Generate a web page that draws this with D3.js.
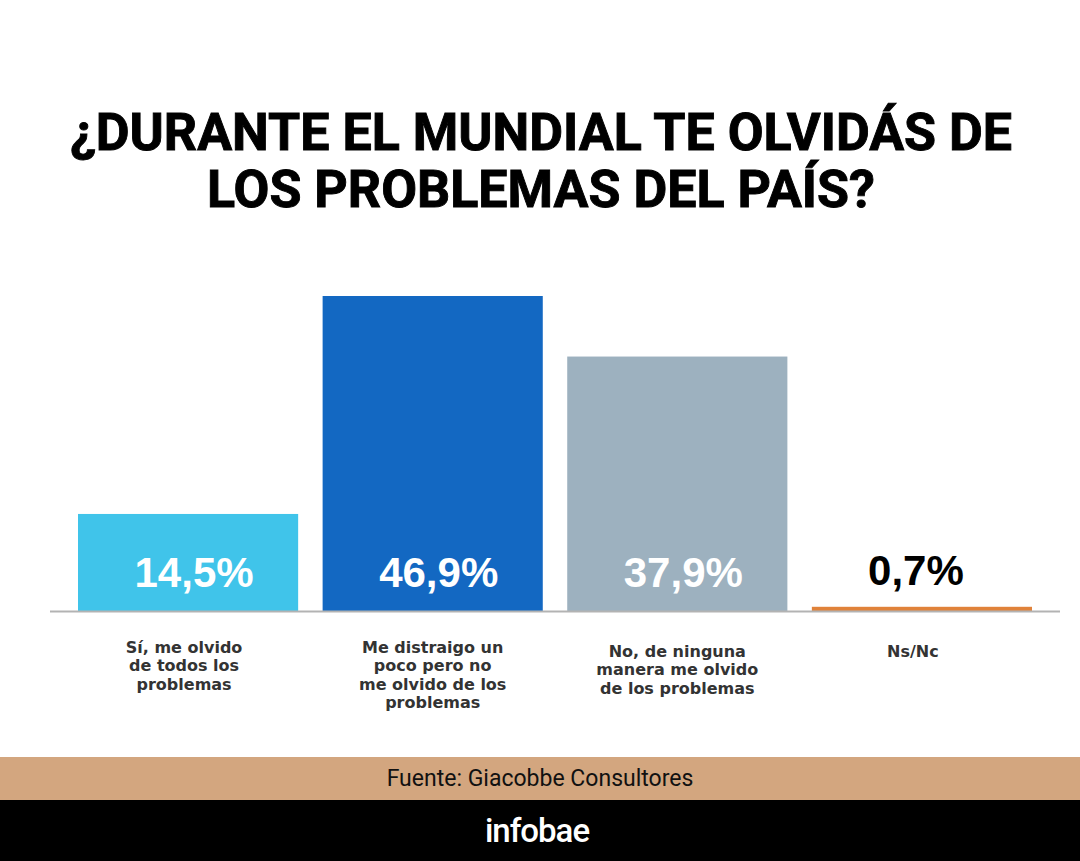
<!DOCTYPE html>
<html><head><meta charset="utf-8">
<script src="https://cdn.jsdelivr.net/npm/d3@7"></script>
<style>html,body{margin:0;padding:0;background:#fff;}svg{display:block;}</style>
</head><body>
<script>
const titleLines = ["¿DURANTE EL MUNDIAL TE OLVIDÁS DE", "LOS PROBLEMAS DEL PAÍS?"];
const categories = ["Sí, me olvido de todos los problemas", "Me distraigo un poco pero no me olvido de los problemas", "No, de ninguna manera me olvido de los problemas", "Ns/Nc"];
const categoryLines = [["Sí, me olvido", "de todos los", "problemas"], ["Me distraigo un", "poco pero no", "me olvido de los", "problemas"], ["No, de ninguna", "manera me olvido", "de los problemas"], ["Ns/Nc"]];
const values = [14.5, 46.9, 37.9, 0.7];
const valueLabels = ["14,5%", "46,9%", "37,9%", "0,7%"];
const colors = ["#40c4ea", "#1368c2", "#9db1bf", "#e0823a"];
const source = "Fuente: Giacobbe Consultores";
const brand = "infobae";

const W = 1080, H = 861;
const svg = d3.select("body").append("svg").attr("width", W).attr("height", H);
svg.append("rect").attr("width", W).attr("height", H).attr("fill", "#fff");

// title
svg.append("g").selectAll("text").data(titleLines).join("text")
  .attr("x", 541).attr("y", (d, i) => 150 + i * 57)
  .attr("text-anchor", "middle")
  .attr("font-family", "Roboto, sans-serif").attr("font-weight", 700)
  .attr("font-size", 52).attr("fill", "#000")
  .attr("stroke", "#000").attr("stroke-width", 0.9)
  .text(d => d);

const baseY = 611.5;
const x = d3.scaleBand().domain(categories).range([78, 1032]).paddingInner(0.1).paddingOuter(0);
const y = d3.scaleLinear().domain([0, d3.max(values)]).range([baseY, 296]);

const data = categories.map((c, i) => ({c, v: values[i], lab: valueLabels[i], col: colors[i], lines: categoryLines[i]}));

svg.append("g").selectAll("rect").data(data).join("rect")
  .attr("x", d => x(d.c)).attr("width", x.bandwidth())
  .attr("y", d => y(d.v)).attr("height", d => baseY - y(d.v))
  .attr("fill", d => d.col);

// baseline
svg.append("line").attr("x1", 50).attr("x2", 1060).attr("y1", baseY).attr("y2", baseY)
  .attr("stroke", "#b3b3b3").attr("stroke-width", 2);

// value labels
svg.append("g").selectAll("text").data(data).join("text")
  .attr("x", d => x(d.c) + x.bandwidth() / 2 + (d.v > 5 ? 6 : -6))
  .attr("y", d => d.v > 5 ? 587 : 585)
  .attr("text-anchor", "middle")
  .attr("font-family", "'Liberation Sans', Arial, sans-serif").attr("font-weight", 700)
  .attr("font-size", 42)
  .attr("fill", d => d.v > 5 ? "#fff" : "#000")
  .text(d => d.lab);

// category labels
const cg = svg.append("g").selectAll("text").data(data).join("text")
  .attr("text-anchor", "middle")
  .attr("font-family", "'DejaVu Sans', sans-serif").attr("font-weight", 700)
  .attr("font-size", 16).attr("fill", "#333");
cg.each(function(d, i) {
  const t = d3.select(this);
  const cx = x(d.c) + x.bandwidth() / 2 + (i === 0 ? -4 : i === 3 ? -9 : 0);
  t.selectAll("tspan").data(d.lines).join("tspan")
    .attr("x", cx).attr("y", (l, j) => (i >= 2 ? 657 : 653) + j * 18.4)
    .text(l => l);
});

// source band
svg.append("rect").attr("x", 0).attr("y", 757).attr("width", W).attr("height", 43).attr("fill", "#d3a67f");
svg.append("text").attr("x", 540).attr("y", 786).attr("text-anchor", "middle")
  .attr("font-family", "Roboto, sans-serif").attr("font-size", 23).attr("fill", "#111")
  .text(source);
svg.append("rect").attr("x", 0).attr("y", 800).attr("width", W).attr("height", 61).attr("fill", "#000");
svg.append("text").attr("x", 537).attr("y", 842).attr("text-anchor", "middle")
  .attr("font-family", "Roboto, sans-serif").attr("font-weight", 500)
  .attr("font-size", 33).attr("letter-spacing", -1).attr("fill", "#fff")
  .text(brand);
</script>
</body></html>
